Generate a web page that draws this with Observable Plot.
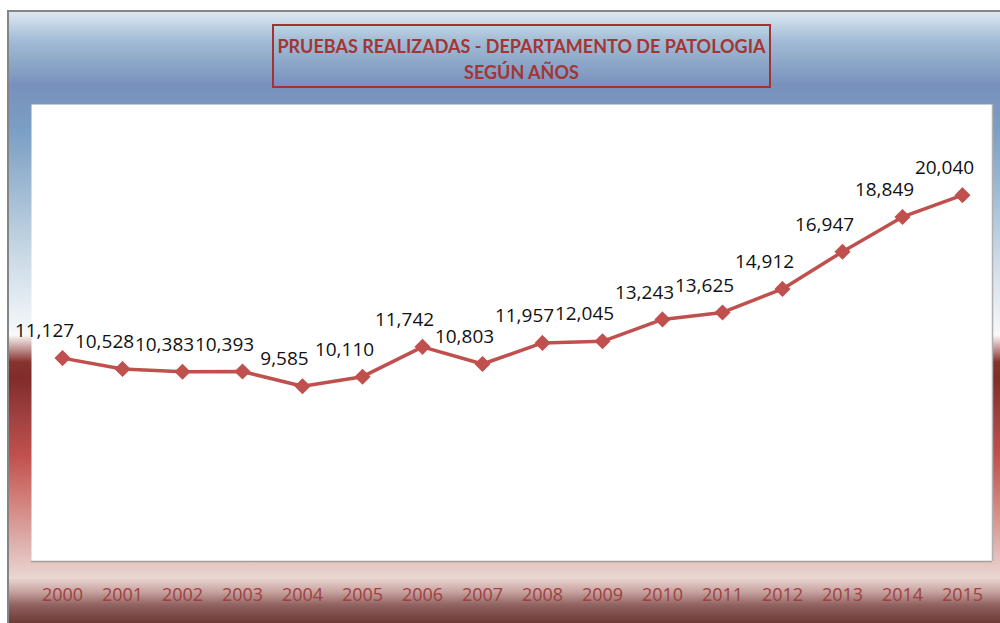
<!DOCTYPE html>
<html>
<head>
<meta charset="utf-8">
<script src="https://cdn.jsdelivr.net/npm/d3@7"></script>
<script src="https://cdn.jsdelivr.net/npm/@observablehq/plot@0.6"></script>
<style>
  html, body { margin: 0; padding: 0; background: #ffffff; }
  #wrap { position: relative; width: 1000px; height: 623px; overflow: hidden; background: #ffffff; }
  #bg {
    position: absolute; left: 7px; top: 10px; width: 1000px; height: 620px;
    border-left: 2px solid #858585; border-top: 2px solid #858585;
    background: linear-gradient(to bottom,
      #dce8f2 0px, #a3bdd6 28px, #7891bc 73px, #7b9ec4 118px, #a6bfd5 188px,
      #cddbe7 248px, #eef3f7 308px, #fbf8f8 323px, #c59a98 336px, #86322f 350px,
      #7f2c2b 366px, #a34242 408px, #c0504d 443px, #d2807b 488px, #dfb2ae 533px,
      #ead6d2 566px, #c6a29e 580px, #906260 593px, #6c3a37 611px);
  }
  #chart { position: absolute; left: 0; top: 0; }
  #title {
    position: absolute; left: 272px; top: 24px; width: 495px;
    border: 2px solid #a33333;
    color: #a33535; font-family: Lato, "Open Sans", sans-serif; font-weight: bold;
    font-size: 18px; line-height: 26px; text-align: center;
    box-sizing: content-box; padding-top: 7px; height: 53px;
  }
</style>
</head>
<body>
<div id="wrap">
  <div id="bg"></div>
  <div id="chart"></div>
  <div id="title">PRUEBAS REALIZADAS - DEPARTAMENTO DE PATOLOGIA<br>SEGÚN AÑOS</div>
</div>
<script>
const years = ["2000","2001","2002","2003","2004","2005","2006","2007","2008","2009","2010","2011","2012","2013","2014","2015"];
const pruebas = [11127,10528,10383,10393,9585,10110,11742,10803,11957,12045,13243,13625,14912,16947,18849,20040];

const data = years.map((y, i) => ({year: y, value: pruebas[i]}));
const fmt = d3.format(",");

const chart = Plot.plot({
  width: 1000,
  height: 623,
  marginLeft: 31,
  marginRight: 8,
  marginTop: 104,
  marginBottom: 62,
  style: {background: "transparent", overflow: "visible"},
  x: {type: "band", domain: years, padding: 0, label: null},
  y: {domain: [0, 25000], axis: null},
  marks: [
    Plot.frame({fill: "white", stroke: "none"}),
    Plot.ruleY([0], {stroke: "#a0a0a0", strokeWidth: 1.5}),
    Plot.ruleX(["2015"], {dx: 30, stroke: "#b0b0b0", strokeWidth: 1.5}),
    Plot.axisX({tickSize: 0, tickPadding: 27, fontSize: 18, fill: "#a0403f",
      fontFamily: "'Open Sans', sans-serif", label: null}),
    Plot.line(data, {x: "year", y: "value", stroke: "#c0504d", strokeWidth: 3.5}),
    Plot.dot(data, {x: "year", y: "value", symbol: "diamond2", r: 6.3, fill: "#c0504d", stroke: "#c0504d"}),
    Plot.text(data, {x: "year", y: "value", text: d => fmt(d.value), dx: -18, dy: -27,
      fontSize: 19, fill: "#111111", fontFamily: "'Open Sans', sans-serif"})
  ]
});
document.getElementById("chart").appendChild(chart);
</script>
</body>
</html>
